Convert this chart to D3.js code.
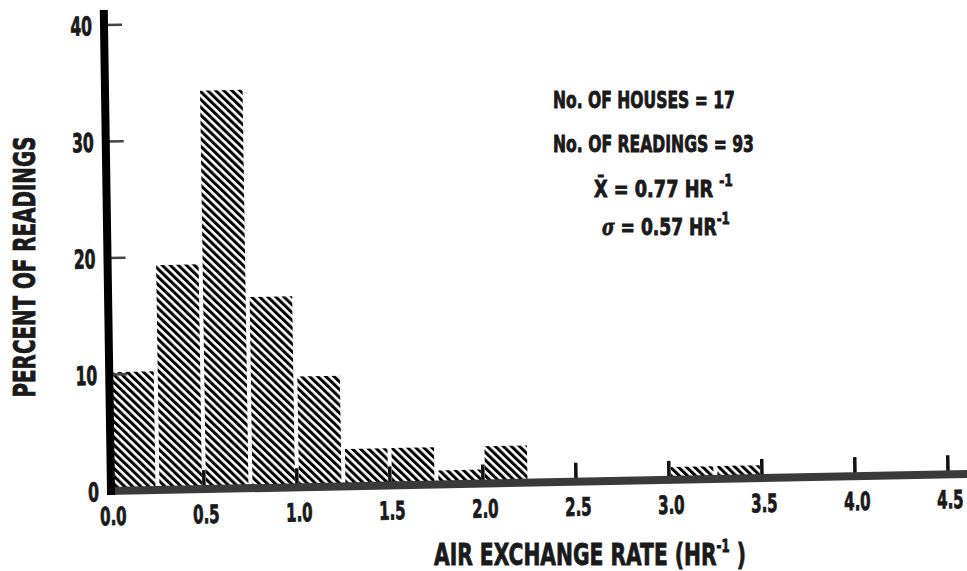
<!DOCTYPE html>
<html>
<head>
<meta charset="utf-8">
<script src="https://cdn.jsdelivr.net/npm/d3@7"></script>
<style>
    body { margin: 0; background: #fff; }
    text { font-family: "DejaVu Sans", sans-serif; font-weight: bold; fill: #1a1a1a; stroke: #1a1a1a; stroke-width: 0.9; }
</style>
</head>
<body>
<div id="wrapper"></div>
<script>
// histogram bins (left edge, width 0.25 hr^-1) and percent of readings
const binStarts = [0, 0.25, 0.5, 0.75, 1.0, 1.25, 1.5, 1.75, 2.0, 3.0, 3.25];
const percents = [10.2, 19.3, 34.2, 16.4, 9.5, 3.2, 3.2, 1.2, 3.2, 1.1, 1.1];
const binWidth = 0.25;

const xTicks = [0, 0.5, 1.0, 1.5, 2.0, 2.5, 3.0, 3.5, 4.0, 4.5];
const xTickLabels = ["0.0", "0.5", "1.0", "1.5", "2.0", "2.5", "3.0", "3.5", "4.0", "4.5"];
const yTicks = [0, 10, 20, 30, 40];

const statNames = ["No. OF HOUSES", "No. OF READINGS"];
const statCounts = [17, 93];
const meanRate = 0.77;
const sdRate = 0.57;

//squeeze a text horizontally so it is as wide as in the scan
function fit(sel, x, y, targetWidth, extra) {
    sel.attr("x", 0).attr("y", 0);
    const w = sel.node().getBBox().width;
    sel.attr("transform", `translate(${x},${y}) ${extra || ""} scale(${targetWidth / w},1)`);
}

function buildPlot() {
    const dimension = { width: 967, height: 571 };
    // origin of the axes in the page, the scan is a bit tilted
    const origin = { x: 111, y: 491 };
    const tilt = { slopeX: -0.02, slopeY: 0.015 };
    const squeeze = 0.6;

    const svg = d3.select("#wrapper").append("svg")
        .attr("width", dimension.width)
        .attr("height", dimension.height);

    const defs = svg.append("defs");
    defs.append("pattern")
        .attr("id", "hatch")
        .attr("patternUnits", "userSpaceOnUse")
        .attr("width", 5.6)
        .attr("height", 10)
        .attr("patternTransform", "rotate(-45)")
        .append("rect")
        .attr("width", 3)
        .attr("height", 10)
        .attr("fill", "#000");

    const xScaler = d3.scaleLinear().domain([0, 4.5]).range([0, 837]);
    const yScaler = d3.scaleLinear().domain([0, 40]).range([0, -466]);

    // everything on the axes lives in one tilted group
    const plot = svg.append("g")
        .attr("transform", `matrix(1, ${tilt.slopeX}, ${tilt.slopeY}, 1, ${origin.x}, ${origin.y})`);

    //x ticks, short upward marks (drawn first so the bars sit over them)
    plot.selectAll("line.xtick")
        .data(xTicks.slice(1))
        .enter()
        .append("line")
        .attr("class", "xtick")
        .attr("x1", d => xScaler(d)).attr("x2", d => xScaler(d))
        .attr("y1", 0).attr("y2", -19)
        .attr("stroke", "#111")
        .attr("stroke-width", 3.5);

    //bars
    plot.selectAll("rect.bar")
        .data(binStarts.map((s, i) => ({ start: s, value: percents[i] })))
        .enter()
        .append("rect")
        .attr("class", "bar")
        .attr("x", d => xScaler(d.start) + 2)
        .attr("width", d => xScaler(d.start + binWidth) - xScaler(d.start) - 4)
        .attr("y", d => yScaler(d.value))
        .attr("height", d => -yScaler(d.value))
        .attr("fill", "url(#hatch)");

    //x axis line, runs off the right edge
    plot.append("line")
        .attr("x1", -4).attr("x2", 870)
        .attr("y1", 0).attr("y2", 0)
        .attr("stroke", "#3a3a3a")
        .attr("stroke-width", 8);

    //y ticks
    plot.selectAll("line.ytick")
        .data(yTicks.slice(1))
        .enter()
        .append("line")
        .attr("class", "ytick")
        .attr("x1", 0).attr("x2", 18)
        .attr("y1", d => yScaler(d)).attr("y2", d => yScaler(d))
        .attr("stroke", "#444")
        .attr("stroke-width", 2.5);

    //y axis line
    plot.append("line")
        .attr("x1", 0).attr("x2", 0)
        .attr("y1", 4).attr("y2", yScaler(40) - 15)
        .attr("stroke", "#000")
        .attr("stroke-width", 8);

    //tick labels
    plot.selectAll("text.xlabel")
        .data(xTicks)
        .enter()
        .append("text")
        .attr("class", "xlabel")
        .attr("text-anchor", "middle")
        .attr("font-size", 25)
        .attr("transform", d => `translate(${xScaler(d) + 2},${34}) scale(${squeeze},1)`)
        .text((d, i) => xTickLabels[i]);

    plot.selectAll("text.ylabel")
        .data(yTicks)
        .enter()
        .append("text")
        .attr("class", "ylabel")
        .attr("text-anchor", "end")
        .attr("font-size", 26)
        .attr("transform", d => `translate(${-12},${yScaler(d) + 10}) scale(${squeeze},1)`)
        .text(d => d);

    //axis titles
    const xTitle = svg.append("text")
        .attr("font-size", 31)
        .text("AIR EXCHANGE RATE (HR");
    xTitle.append("tspan").attr("font-size", 18).attr("dy", -13).text("-1");
    xTitle.append("tspan").attr("dy", 13).text(" )");
    fit(xTitle, 434, 565, 312);

    const yTitle = svg.append("text")
        .attr("text-anchor", "middle")
        .attr("font-size", 31)
        .text("PERCENT OF READINGS");
    fit(yTitle, 35, 267, 261, "rotate(-90)");

    //stats box
    const stats = svg.append("g");
    stats.selectAll("text.count")
        .data(statNames)
        .enter()
        .append("text")
        .attr("class", "count")
        .attr("font-size", 23)
        .text((d, i) => `${d} = ${statCounts[i]}`)
        .each(function(d, i) {
            fit(d3.select(this), 553, 108 + i * 44, i === 0 ? 182 : 201);
        });

    const mean = stats.append("text").attr("font-size", 23);
    mean.append("tspan").text("X\u0304 = " + meanRate.toFixed(2) + " HR ");
    mean.append("tspan").attr("font-size", 16).attr("dy", -11).text("-1");
    fit(mean, 594, 197, 139);

    const sd = stats.append("text").attr("font-size", 23);
    sd.append("tspan").attr("font-style", "italic").attr("font-family", "DejaVu Serif").text("\u03c3");
    sd.append("tspan").text(" = " + sdRate.toFixed(2) + " HR");
    sd.append("tspan").attr("font-size", 16).attr("dy", -11).text("-1");
    fit(sd, 602, 235, 128);
}

buildPlot();
</script>
</body>
</html>
